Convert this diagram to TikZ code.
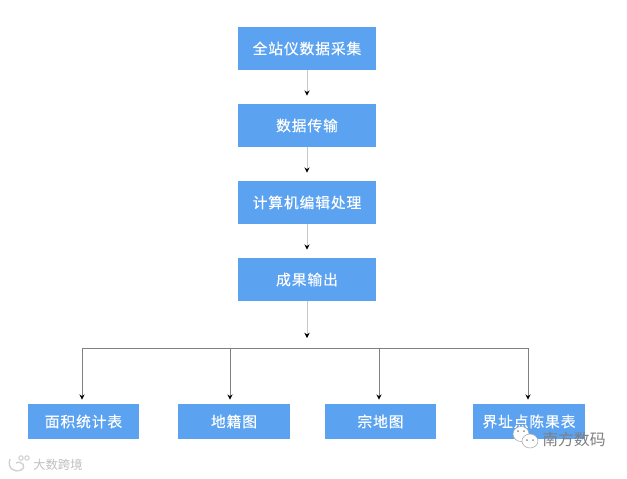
\documentclass[tikz,border=0pt]{standalone}
\usepackage{fontspec}
\usepackage{tikz}
\usetikzlibrary{arrows.meta}
\newfontfamily\cjkbox[LetterSpace=6,FakeBold=0.25]{Noto Sans CJK SC}
\newfontfamily\cjkmark{Noto Sans CJK SC}
\definecolor{boxblue}{HTML}{5BA3F1}
\tikzset{
	stepbox/.style={fill=boxblue,text=white,inner sep=0pt,minimum height=43*0.02cm,minimum width=138*0.02cm,text height=6.4pt,text depth=0pt,font=\cjkbox\fontsize{8.4}{10}\selectfont},
	leafbox/.style={stepbox,minimum height=35*0.02cm,minimum width=111.5*0.02cm},
	flow/.style={draw=black!22,line width=0.5pt,-{Stealth[black,length=3pt,width=3pt]},shorten >=8*0.02cm},
	bus/.style={draw=black!50,line width=0.5pt},
	drop/.style={bus,-{Stealth[black,length=3pt,width=3pt]},shorten >=4*0.02cm}
}
\begin{document}
\begin{tikzpicture}[x=0.02cm,y=-0.02cm]
	\useasboundingbox (0,0) rectangle (627,478);
	\node [stepbox] (collect) at (307,48.5) {全站仪数据采集};
	\node [stepbox] (transfer) at (307,125.5) {数据传输};
	\node [stepbox] (process) at (307,202.5) {计算机编辑处理};
	\node [stepbox] (output) at (307,279.5) {成果输出};
	\node [leafbox] (area) at (83.5,421.5) {面积统计表};
	\node [leafbox] (cadastre) at (234,421.5) {地籍图};
	\node [leafbox] (parcel) at (380.5,421.5) {宗地图};
	\node [leafbox] (boundary) at (529,421.5) {界址点陈果表};
	\draw [flow] (collect) -- (transfer);
	\draw [flow] (transfer) -- (process);
	\draw [flow] (process) -- (output);
	\coordinate (busl) at (82,348);
	\coordinate (busa) at (230,348);
	\coordinate (busb) at (379,348);
	\coordinate (busr) at (528,348);
	\coordinate (tip) at (307,338);
	\draw [flow,shorten >=0pt] (output) -- (tip);
	\draw [bus] (busl) -- (busr);
	\draw [drop] (busl) -- (busl |- area.north);
	\draw [drop] (busa) -- (busa |- cadastre.north);
	\draw [drop] (busb) -- (busb |- parcel.north);
	\draw [drop] (busr) -- (busr |- boundary.north);
	\fill [white,draw=black!35,line width=0.3pt] (521,434) ellipse [x radius=8,y radius=7.5];
	\fill [white,draw=black!35,line width=0.3pt] (530,441) ellipse [x radius=8,y radius=7];
	\foreach \ex/\ey in {518/431,524/431,527/440,533/440} {
		\fill [black!45] (\ex,\ey) circle [radius=1];
	}
	\node [text=black!50,font=\cjkmark\fontsize{9}{10}\selectfont,inner sep=0pt] (brand) at (574,439) {南方数码};
	\draw [black!18,line width=0.8pt] (10,459) .. controls (7,468) and (14,473) .. (21,470) .. controls (27,467) and (22,460) .. (16,463);
	\draw [black!18,line width=0.6pt] (21,458) circle [radius=2.2];
	\draw [black!18,line width=0.6pt] (27,458) circle [radius=2.2];
	\node [text=black!25,font=\cjkmark\fontsize{7}{9}\selectfont,inner sep=0pt] (source) at (58,465) {大数跨境};
\end{tikzpicture}
\end{document}
